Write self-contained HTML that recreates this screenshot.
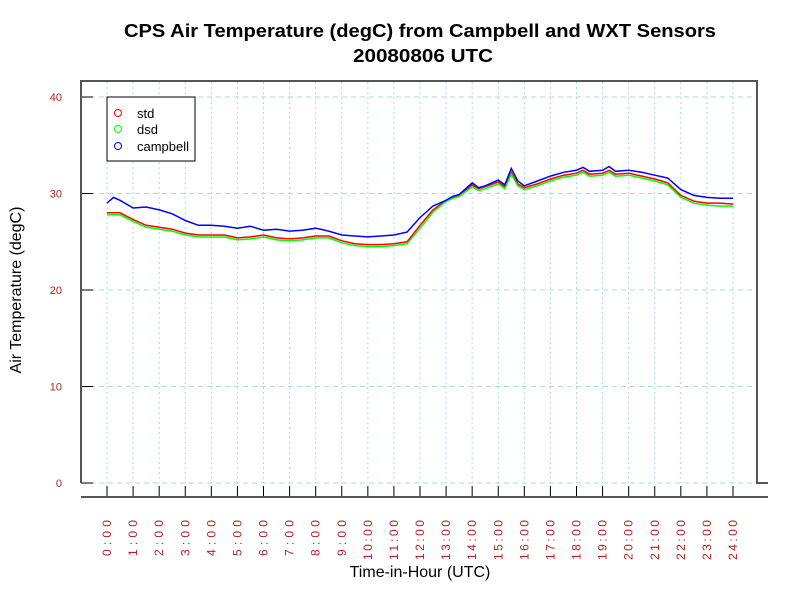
<!DOCTYPE html>
<html><head><meta charset="utf-8"><style>
html,body{margin:0;padding:0;background:#fff;}
svg{display:block;font-family:"Liberation Sans",sans-serif;}
</style></head><body>
<svg id="chart" width="800" height="600" viewBox="0 0 800 600">
<text x="420" y="37" text-anchor="middle" font-size="18" font-weight="bold" textLength="592" lengthAdjust="spacingAndGlyphs">CPS Air Temperature (degC) from Campbell and WXT Sensors</text>
<text x="423" y="62" text-anchor="middle" font-size="18" font-weight="bold" textLength="140" lengthAdjust="spacingAndGlyphs">20080806  UTC</text>
<g id="grid"></g>
<g id="axes"></g>
<g id="series"></g>
<text x="21" y="290" transform="rotate(-90 21 290)" text-anchor="middle" font-size="16">Air Temperature (degC)</text>
<text x="420" y="577" text-anchor="middle" font-size="16">Time-in-Hour (UTC)</text>
<g>
<rect x="107" y="97" width="88" height="64" fill="#fff" stroke="#000" stroke-width="1"/>
<circle cx="118" cy="113" r="3.5" fill="none" stroke="#f00"/>
<text x="137" y="118" font-size="13">std</text>
<circle cx="118" cy="129" r="3.5" fill="none" stroke="#0f0"/>
<text x="137" y="134" font-size="13">dsd</text>
<circle cx="118" cy="146" r="3.5" fill="none" stroke="#00f"/>
<text x="137" y="151" font-size="13">campbell</text>
</g>
</svg>
<script>
const hours = [0,0.25,0.5,1,1.5,2,2.5,3,3.5,4,4.5,5,5.5,6,6.5,7,7.5,8,8.5,9,9.5,10,10.5,11,11.5,12,12.5,13,13.25,13.5,14,14.25,14.5,15,15.25,15.5,15.75,16,16.5,17,17.5,18,18.25,18.5,19,19.25,19.5,20,20.5,21,21.5,22,22.5,23,23.5,24];
const campbell = [29.0,29.6,29.3,28.5,28.6,28.3,27.9,27.2,26.7,26.7,26.6,26.4,26.6,26.2,26.3,26.1,26.2,26.4,26.1,25.7,25.6,25.5,25.6,25.7,26.0,27.5,28.7,29.3,29.7,29.9,31.1,30.6,30.8,31.4,30.9,32.6,31.3,30.8,31.3,31.8,32.2,32.4,32.7,32.3,32.4,32.8,32.3,32.4,32.2,31.9,31.6,30.4,29.8,29.6,29.5,29.5];
const stdT = [28.0,28.0,28.0,27.3,26.7,26.5,26.3,25.9,25.7,25.7,25.7,25.4,25.5,25.7,25.4,25.3,25.4,25.6,25.6,25.1,24.8,24.7,24.7,24.8,25.0,26.7,28.3,29.3,29.6,29.8,30.9,30.5,30.7,31.2,30.7,32.2,31.0,30.6,31.0,31.5,31.9,32.1,32.4,32.0,32.1,32.4,32.0,32.1,31.8,31.5,31.1,29.8,29.2,29.0,29.0,28.9];
const dsdT = [27.9,27.9,27.9,27.2,26.6,26.4,26.2,25.8,25.6,25.6,25.6,25.3,25.4,25.6,25.3,25.2,25.3,25.5,25.5,25.0,24.7,24.6,24.6,24.7,24.9,26.5,28.2,29.3,29.6,29.8,30.8,30.4,30.6,31.1,30.6,32.1,30.9,30.5,30.9,31.4,31.8,32.0,32.3,31.9,32.0,32.3,31.9,32.0,31.7,31.4,31.0,29.7,29.1,28.9,28.8,28.8];
const yTicks = [0,10,20,30,40];
const xTicks = ["0:00","1:00","2:00","3:00","4:00","5:00","6:00","7:00","8:00","9:00","10:00","11:00","12:00","13:00","14:00","15:00","16:00","17:00","18:00","19:00","20:00","21:00","22:00","23:00","24:00"];

const NS="http://www.w3.org/2000/svg";
const X = h => 107 + h*(733-107)/24;
const Y = v => 483 - v*(483-97)/40;
function mk(parent, tag, attrs){const e=document.createElementNS(NS,tag);for(const k in attrs)e.setAttribute(k,attrs[k]);document.getElementById(parent).appendChild(e);return e;}

yTicks.forEach(v=>{
  const g=mk('grid','line',{x1:81,x2:757,y1:Y(v),y2:Y(v),stroke:'#add8e6','stroke-dasharray':'5,4'});
  
  
  const t=mk('axes','line',{x1:81,x2:93,y1:Y(v),y2:Y(v),stroke:'#000'});
  
  
  const l=mk('axes','text',{x:62,y:Y(v)+4,'text-anchor':'end','font-size':11,fill:'#b22222'});
  l.textContent=v;
  
  
});
xTicks.forEach((s,i)=>{
  const x=X(i);
  const g=mk('grid','line',{x1:x,x2:x,y1:82,y2:483,stroke:'#add8e6','stroke-dasharray':'2,3'});
  
  
  const t=mk('axes','line',{x1:x,x2:x,y1:486,y2:497,stroke:'#000'});
  
  
  const len = s.length===4 ? 36 : 40;
  const l=mk('axes','text',{x:x+4,y:520,'text-anchor':'end','font-size':12,fill:'#b22222',textLength:len,lengthAdjust:'spacing',transform:`rotate(-90 ${x+4} 520)`});
  l.textContent=s;
  
  
});
const frame=mk('axes','path',{d:'M81 483 V81 H757 V483 H768 M81 497 H768',fill:'none',stroke:'#555','stroke-width':2});



[[stdT,'#f00','std-line'],[dsdT,'#0f0','dsd-line'],[campbell,'#00f','campbell-line']].forEach(([arr,c,n],k)=>{
  const d=arr.map((v,i)=>(i?'L':'M')+X(hours[i]).toFixed(1)+' '+(Y(v)+(k===1?1:0)).toFixed(1)).join(' ');
  const p=mk('series','path',{d:d,fill:'none',stroke:c,'stroke-width':1.5});
  
  
});
</script>
</body></html>
